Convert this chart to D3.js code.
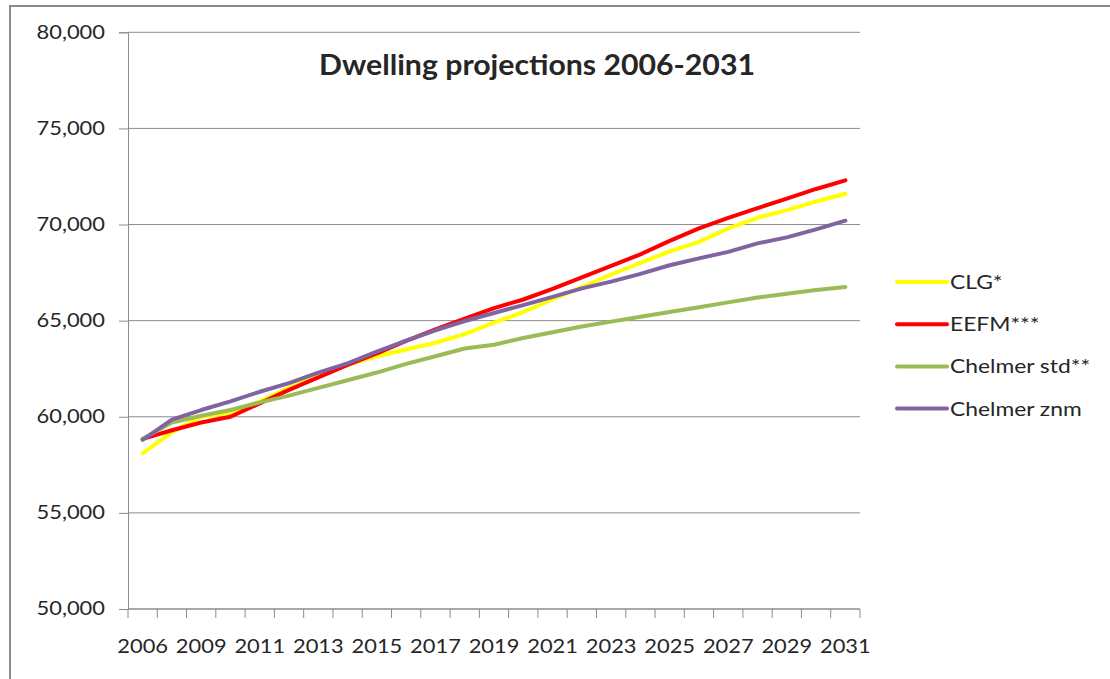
<!DOCTYPE html>
<html>
<head>
<meta charset="utf-8">
<script src="https://cdn.jsdelivr.net/npm/d3@7"></script>
<style>
  html, body { margin: 0; padding: 0; background: #fff; }
  svg { display: block; }
  text { font-family: Lato, "Open Sans", sans-serif; fill: #262626; }
</style>
</head>
<body>
<svg id="chart" width="1110" height="679"></svg>
<script>
// categories (the source sheet skips 2007)
var years = ["2006","2008","2009","2010","2011","2012","2013","2014","2015","2016","2017","2018","2019",
             "2020","2021","2022","2023","2024","2025","2026","2027","2028","2029","2030","2031"];
var tickYears = ["2006","2009","2011","2013","2015","2017","2019","2021","2023","2025","2027","2029","2031"];
var yTicks = [50000, 55000, 60000, 65000, 70000, 75000, 80000];

var seriesNames = ["CLG*", "EEFM***", "Chelmer std**", "Chelmer znm"];
var seriesColors = ["#FFFF00", "#FF0000", "#9BBB59", "#8064A2"];

var clg = [58100, 59200, 60000, 60200, 60800, 61500, 62100, 62700, 63150, 63500, 63850, 64300, 64900,
           65450, 66100, 66750, 67400, 68000, 68600, 69100, 69800, 70350, 70750, 71200, 71600];
var eefm = [58850, 59300, 59700, 60000, 60700, 61400, 62050, 62700, 63300, 63950, 64550, 65100, 65650,
            66100, 66650, 67250, 67850, 68450, 69150, 69800, 70350, 70850, 71350, 71850, 72300];
var chelmerStd = [58850, 59700, 60050, 60350, 60750, 61100, 61500, 61900, 62300, 62750, 63150, 63550, 63750,
                  64100, 64400, 64700, 64950, 65200, 65450, 65700, 65950, 66200, 66400, 66600, 66750];
var chelmerZnm = [58800, 59850, 60350, 60800, 61300, 61750, 62300, 62780, 63390, 63960, 64500, 64980, 65400,
                  65810, 66240, 66680, 67030, 67430, 67880, 68240, 68580, 69020, 69330, 69750, 70200];

var seriesValues = [clg, eefm, chelmerStd, chelmerZnm];

var svg = d3.select("#chart");

var plot = {left: 128, right: 860, top: 32.3, bottom: 609};
var axisColor = "#8c8c8c";
var labelScale = 1.17; // source text is a little wider than Lato

// chart frame (runs off the right and bottom of the picture)
svg.append("rect")
    .attr("x", 10).attr("y", 6)
    .attr("width", 1200).attr("height", 800)
    .attr("fill", "none")
    .attr("stroke", axisColor)
    .attr("stroke-width", 2);

var x = d3.scaleBand().domain(years).range([plot.left, plot.right]).padding(0);
var y = d3.scaleLinear().domain([50000, 80000]).range([plot.bottom, plot.top]);

// gridlines
svg.append("g")
    .selectAll("line")
    .data(yTicks)
    .join("line")
    .attr("x1", plot.left).attr("x2", plot.right)
    .attr("y1", function(d) { return y(d); })
    .attr("y2", function(d) { return y(d); })
    .attr("stroke", axisColor)
    .attr("stroke-width", 1);

// y axis
var yAxis = svg.append("g")
    .attr("transform", "translate(" + plot.left + ",0)")
    .call(d3.axisLeft(y).tickValues(yTicks).tickFormat(d3.format(",")).tickSize(9).tickPadding(14));
yAxis.select(".domain").attr("stroke", axisColor);
yAxis.selectAll(".tick line").attr("stroke", axisColor);
yAxis.selectAll(".tick text")
    .attr("font-size", 18.7)
    .attr("fill", "#262626")
    .attr("font-family", "Lato")
    .attr("transform", "scale(" + labelScale + ",1)")
    .attr("x", -23 / labelScale);

// x axis: ticks on category boundaries
var boundaries = years.map(function(d) { return x(d); }).concat([x.range()[1]]);
svg.append("line")
    .attr("x1", plot.left).attr("x2", plot.right)
    .attr("y1", plot.bottom).attr("y2", plot.bottom)
    .attr("stroke", axisColor);
svg.append("g")
    .selectAll("line")
    .data(boundaries)
    .join("line")
    .attr("x1", function(d) { return d; })
    .attr("x2", function(d) { return d; })
    .attr("y1", plot.bottom).attr("y2", plot.bottom + 9)
    .attr("stroke", axisColor);

var xAxis = svg.append("g")
    .attr("transform", "translate(0," + plot.bottom + ")")
    .call(d3.axisBottom(x).tickValues(tickYears).tickSize(0).tickPadding(0));
xAxis.select(".domain").remove();
xAxis.selectAll(".tick text")
    .attr("font-size", 18.7)
    .attr("fill", "#262626")
    .attr("font-family", "Lato")
    .attr("dy", 0)
    .attr("y", 44)
    .attr("transform", "scale(" + labelScale + ",1)");

// lines
var line = d3.line()
    .x(function(d, i) { return x(years[i]) + x.bandwidth() / 2; })
    .y(function(d) { return y(d); });

svg.append("g")
    .selectAll("path")
    .data(seriesValues)
    .join("path")
    .attr("d", function(d) { return line(d); })
    .attr("fill", "none")
    .attr("stroke", function(d, i) { return seriesColors[i]; })
    .attr("stroke-width", 4)
    .attr("stroke-linejoin", "round")
    .attr("stroke-linecap", "round");

// title
svg.append("text")
    .attr("transform", "translate(537,75) scale(1.08,1)")
    .attr("text-anchor", "middle")
    .attr("font-size", 28)
    .attr("font-weight", "bold")
    .attr("fill", "#000")
    .text("Dwelling projections 2006-2031");

// legend
var legend = svg.append("g")
    .selectAll("g")
    .data(seriesNames)
    .join("g")
    .attr("transform", function(d, i) { return "translate(897," + (282 + i * 42.2) + ")"; });
legend.append("line")
    .attr("x1", 0).attr("x2", 50)
    .attr("stroke", function(d, i) { return seriesColors[i]; })
    .attr("stroke-width", 4)
    .attr("stroke-linecap", "round");
legend.append("text")
    .attr("transform", "translate(53,7) scale(1.17,1)")
    .attr("font-size", 19.5)
    .text(function(d) { return d; });
</script>
</body>
</html>
